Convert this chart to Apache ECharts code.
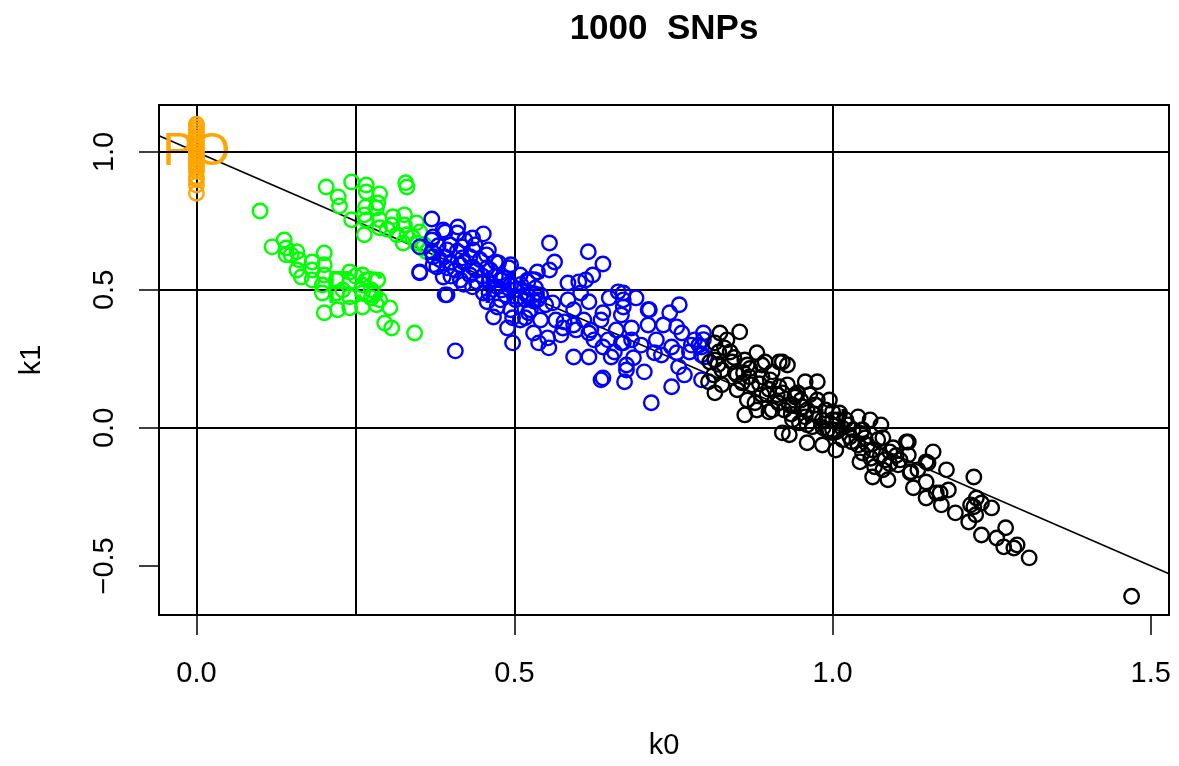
<!DOCTYPE html>
<html>
<head>
<meta charset="utf-8">
<title>1000 SNPs</title>
<script src="https://cdn.jsdelivr.net/npm/echarts@6/dist/echarts.min.js"></script>
<style>
  html, body { margin: 0; padding: 0; background: #fff; }
  #chart { width: 1179px; height: 766px; }
</style>
</head>
<body>
<div id="chart"></div>
<script>
// Estimated IBD coefficients (k0, k1) for pairs, grouped by relationship
const poPoints = [
  [0, 0.85], [0, 0.88], [0, 0.90], [0, 0.91], [0, 0.93], [0, 0.94], [0, 0.95],
  [0, 0.96], [0, 0.97], [0, 0.98], [0, 0.99], [0, 1.00], [0, 1.01], [0, 1.02],
  [0, 1.03], [0, 1.04], [0, 1.05], [0, 1.06], [0, 1.07], [0, 1.08], [0, 1.09], [0, 1.10]
];

const fsPoints = [
  [0.100, 0.786], [0.204, 0.873], [0.223, 0.837], [0.225, 0.804], [0.244, 0.891],
  [0.267, 0.880], [0.267, 0.855], [0.288, 0.848], [0.329, 0.888], [0.331, 0.873],
  [0.285, 0.815], [0.266, 0.800], [0.264, 0.772], [0.283, 0.797], [0.244, 0.754],
  [0.267, 0.754], [0.288, 0.754], [0.264, 0.700], [0.288, 0.725], [0.307, 0.735],
  [0.309, 0.765], [0.327, 0.772], [0.327, 0.735], [0.325, 0.670], [0.346, 0.743],
  [0.351, 0.710], [0.346, 0.670], [0.315, 0.700], [0.331, 0.700], [0.354, 0.652],
  [0.362, 0.638], [0.300, 0.720], [0.340, 0.690], [0.358, 0.665],
  [0.119, 0.656], [0.138, 0.681], [0.141, 0.652], [0.141, 0.627], [0.158, 0.638],
  [0.161, 0.609], [0.158, 0.572], [0.182, 0.601], [0.201, 0.634], [0.201, 0.591],
  [0.165, 0.547], [0.182, 0.572], [0.182, 0.536], [0.201, 0.554], [0.198, 0.518],
  [0.220, 0.536], [0.241, 0.565], [0.241, 0.529], [0.261, 0.554], [0.261, 0.518],
  [0.198, 0.489], [0.220, 0.489], [0.241, 0.475], [0.261, 0.489], [0.275, 0.471],
  [0.288, 0.464], [0.201, 0.417], [0.222, 0.428], [0.241, 0.435], [0.261, 0.438],
  [0.283, 0.446], [0.304, 0.435], [0.296, 0.380], [0.307, 0.362], [0.343, 0.344],
  [0.285, 0.536], [0.275, 0.500], [0.149, 0.627], [0.230, 0.500], [0.250, 0.550]
];

const hsPoints = [
  [0.370, 0.757], [0.411, 0.728], [0.451, 0.703], [0.434, 0.688], [0.410, 0.706],
  [0.391, 0.710], [0.372, 0.692], [0.555, 0.670], [0.616, 0.638], [0.639, 0.594],
  [0.563, 0.601], [0.555, 0.572], [0.536, 0.565], [0.456, 0.627], [0.435, 0.645],
  [0.418, 0.656], [0.394, 0.645], [0.370, 0.638], [0.351, 0.562], [0.372, 0.591],
  [0.394, 0.580], [0.415, 0.591], [0.434, 0.583], [0.457, 0.580], [0.475, 0.598],
  [0.491, 0.580], [0.394, 0.482], [0.415, 0.536], [0.434, 0.511], [0.451, 0.489],
  [0.473, 0.511], [0.483, 0.543], [0.494, 0.518], [0.457, 0.457], [0.473, 0.438],
  [0.467, 0.402], [0.494, 0.428], [0.489, 0.362], [0.497, 0.308], [0.407, 0.279],
  [0.509, 0.475], [0.521, 0.529], [0.533, 0.507], [0.536, 0.464], [0.522, 0.417],
  [0.509, 0.391], [0.530, 0.344], [0.552, 0.326], [0.538, 0.308], [0.554, 0.290],
  [0.560, 0.453], [0.584, 0.525], [0.601, 0.529], [0.612, 0.536], [0.623, 0.554],
  [0.604, 0.489], [0.584, 0.464], [0.593, 0.428], [0.578, 0.384], [0.576, 0.362],
  [0.593, 0.373], [0.609, 0.391], [0.617, 0.457], [0.617, 0.344], [0.625, 0.319],
  [0.639, 0.417], [0.649, 0.471], [0.663, 0.493], [0.671, 0.464], [0.691, 0.471],
  [0.671, 0.438], [0.668, 0.409], [0.710, 0.428], [0.684, 0.362], [0.668, 0.308],
  [0.657, 0.275], [0.639, 0.293], [0.617, 0.257], [0.593, 0.257], [0.676, 0.228],
  [0.704, 0.203], [0.636, 0.174], [0.673, 0.167], [0.710, 0.373], [0.720, 0.272],
  [0.671, 0.489], [0.759, 0.446], [0.744, 0.417], [0.712, 0.428], [0.734, 0.373],
  [0.755, 0.366], [0.763, 0.344], [0.783, 0.319], [0.797, 0.344], [0.794, 0.293],
  [0.799, 0.257], [0.775, 0.275], [0.758, 0.221], [0.747, 0.149], [0.767, 0.192],
  [0.715, 0.091], [0.687, 0.254], [0.676, 0.210], [0.652, 0.257], [0.671, 0.308],
  [0.647, 0.319], [0.639, 0.181], [0.794, 0.174], [0.747, 0.293], [0.755, 0.272],
  [0.351, 0.656], [0.351, 0.565], [0.370, 0.681], [0.388, 0.717], [0.391, 0.482],
  [0.372, 0.620], [0.388, 0.547], [0.378, 0.583],
  [0.383, 0.609], [0.407, 0.572], [0.422, 0.681], [0.430, 0.554], [0.446, 0.609],
  [0.462, 0.572], [0.478, 0.536], [0.486, 0.482], [0.502, 0.464], [0.509, 0.554],
  [0.517, 0.464], [0.525, 0.428], [0.541, 0.482], [0.549, 0.446], [0.399, 0.663],
  [0.418, 0.616], [0.438, 0.663], [0.459, 0.645], [0.470, 0.601], [0.494, 0.591],
  [0.478, 0.464], [0.497, 0.399], [0.517, 0.399], [0.541, 0.391], [0.565, 0.391],
  [0.573, 0.337], [0.597, 0.355], [0.620, 0.355], [0.636, 0.391], [0.660, 0.355],
  [0.684, 0.319], [0.699, 0.300], [0.723, 0.319], [0.731, 0.264], [0.778, 0.300],
  [0.794, 0.264], [0.797, 0.320], [0.790, 0.300],
  [0.380, 0.660], [0.390, 0.620], [0.400, 0.600], [0.410, 0.640], [0.420, 0.600],
  [0.430, 0.620], [0.440, 0.570], [0.450, 0.550], [0.460, 0.530], [0.470, 0.550],
  [0.480, 0.500], [0.490, 0.520], [0.500, 0.500], [0.510, 0.520], [0.520, 0.480],
  [0.530, 0.460], [0.440, 0.530], [0.460, 0.490], [0.400, 0.550], [0.420, 0.520]
];

const unPoints = [
  [0.823, 0.344], [0.854, 0.348], [0.815, 0.308], [0.821, 0.275], [0.839, 0.275],
  [0.881, 0.272], [0.916, 0.239], [0.894, 0.239], [0.862, 0.246], [0.815, 0.246],
  [0.826, 0.210], [0.847, 0.199], [0.869, 0.185], [0.889, 0.185], [0.902, 0.174],
  [0.815, 0.127], [0.805, 0.167], [0.858, 0.163], [0.878, 0.091], [0.862, 0.047],
  [0.900, 0.058], [0.921, 0.127], [0.916, 0.149], [0.957, 0.167], [0.976, 0.167],
  [0.941, 0.120], [0.964, 0.120], [0.932, 0.083], [0.953, 0.076], [0.973, 0.083],
  [0.995, 0.101], [0.989, 0.065], [0.921, -0.018], [0.948, 0.018], [0.968, 0.004],
  [0.957, 0.040], [1.011, 0.054], [1.021, 0.029], [0.921, 0.239], [0.941, 0.112],
  [1.040, 0.040], [1.059, 0.029], [1.076, 0.011], [1.079, -0.036], [1.116, -0.051],
  [1.158, -0.087], [1.179, -0.152], [1.222, -0.178], [1.147, -0.123], [1.090, -0.087],
  [1.106, -0.116], [1.123, -0.159], [1.147, -0.196], [1.066, -0.141], [1.063, -0.178],
  [1.087, -0.188], [1.043, -0.123], [1.047, -0.091], [1.005, -0.080], [0.984, -0.062],
  [0.960, -0.054], [0.932, -0.025], [1.027, -0.033], [1.000, -0.007], [1.163, -0.236],
  [1.182, -0.225], [1.226, -0.254], [1.119, -0.051], [1.150, -0.127], [1.122, -0.163],
  [1.127, -0.217], [1.147, -0.254], [1.169, -0.236], [1.171, -0.279], [1.193, -0.308],
  [1.214, -0.341], [1.217, -0.279], [1.222, -0.286], [1.234, -0.272], [1.250, -0.290],
  [1.225, -0.315], [1.234, -0.388], [1.272, -0.362], [1.258, -0.399], [1.269, -0.431],
  [1.285, -0.435], [1.290, -0.424], [1.309, -0.471], [1.470, -0.610],
  [0.834, 0.319], [0.842, 0.239], [0.850, 0.192], [0.866, 0.228], [0.873, 0.156],
  [0.889, 0.228], [0.905, 0.203], [0.913, 0.120], [0.929, 0.156], [0.937, 0.083],
  [0.945, 0.127], [0.960, 0.065], [0.976, 0.101], [0.984, 0.029], [0.992, -0.007],
  [1.008, 0.029], [1.016, -0.043], [1.032, -0.007], [1.040, -0.062], [1.051, -0.036],
  [1.063, -0.080], [1.071, -0.043], [1.082, -0.116], [1.095, -0.072], [1.103, -0.134],
  [1.119, -0.098], [1.134, -0.152], [0.889, 0.120], [0.866, 0.101], [0.850, 0.138],
  [0.826, 0.156], [0.813, 0.192], [0.807, 0.239], [0.960, 0.011], [1.000, 0.058],
  [1.024, 0.011], [1.047, -0.007], [1.055, -0.062], [1.079, -0.152], [0.937, 0.029],
  [0.924, 0.065], [0.905, 0.065], [0.881, 0.065], [0.897, 0.120], [0.929, 0.228],
  [0.830, 0.290], [0.845, 0.255], [0.870, 0.215], [0.885, 0.160], [0.900, 0.140],
  [0.915, 0.090], [0.935, 0.050], [0.950, 0.100], [0.970, 0.050], [0.985, 0.000],
  [1.000, 0.030], [1.015, 0.000], [1.030, -0.050], [1.045, -0.020], [1.060, -0.110],
  [1.075, -0.100], [1.090, -0.130], [1.100, -0.100], [0.860, 0.200], [0.820, 0.230]
];

// Expected coefficients for each relationship, drawn as large letters
const relLabels = ['PO', 'FS', 'HS', 'U'];
const relK0 = [0, 0.25, 0.5, 1];
const relK1 = [1, 0.5, 0.5, 0];
const relColors = ['#FFA500', '#00FF00', '#0000FF', '#000000'];

// Reference lines: k0 + k1 = 1, plus guide lines at the expected values
const ablineIntercept = 1;
const ablineSlope = -1;
const vLines = [0, 0.25, 0.5, 1];
const hLines = [0, 0.5, 1];

// Axis ranges and ticks
const xRange = [-0.0588, 1.5288];
const yRange = [-0.678, 1.170];
const xTicks = [0, 0.5, 1, 1.5];
const yTicks = [-0.5, 0, 0.5, 1];

const FONT = '"Liberation Sans", Arial, Helvetica, sans-serif';

const chart = echarts.init(document.getElementById('chart'), null, { renderer: 'canvas' });

function pointSeries(name, data, color) {
  return {
    name: name,
    type: 'scatter',
    data: data,
    symbol: 'circle',
    symbolSize: 14.5,
    itemStyle: { color: 'rgba(0,0,0,0)', borderColor: color, borderWidth: 2.4, opacity: 1 },
    emphasis: { disabled: true },
    silent: true,
    z: 5
  };
}

const option = {
  animation: false,
  backgroundColor: '#fff',
  grid: {
    left: 159, right: 10, top: 105, bottom: 151,
    show: true, borderColor: '#000', borderWidth: 2, backgroundColor: 'transparent',
    containLabel: false
  },
  graphic: [
    {
      type: 'text', x: 664, y: 29, z: 10,
      style: { text: '1000  SNPs', font: 'bold 35px ' + FONT, fill: '#000',
               textAlign: 'center', textVerticalAlign: 'middle' }
    },
    {
      type: 'text', x: 664, y: 746, z: 10,
      style: { text: 'k0', font: '29px ' + FONT, fill: '#000',
               textAlign: 'center', textVerticalAlign: 'middle' }
    },
    {
      type: 'text', x: 32, y: 360, rotation: Math.PI / 2, z: 10,
      style: { text: 'k1', font: '29px ' + FONT, fill: '#000',
               textAlign: 'center', textVerticalAlign: 'middle' }
    }
  ],
  xAxis: {
    type: 'value',
    min: xRange[0], max: xRange[1],
    splitLine: { show: false },
    axisLine: { show: false, onZero: false },
    axisTick: {
      show: true, inside: false, length: 20, customValues: xTicks,
      lineStyle: { color: '#000', width: 1.5 }
    },
    axisLabel: {
      show: true, customValues: xTicks, margin: 44,
      color: '#000', fontSize: 29, fontFamily: FONT,
      formatter: v => v.toFixed(1)
    }
  },
  yAxis: {
    type: 'value',
    min: yRange[0], max: yRange[1],
    splitLine: { show: false },
    axisLine: { show: false, onZero: false },
    axisTick: {
      show: true, inside: false, length: 20, customValues: yTicks,
      lineStyle: { color: '#000', width: 1.5 }
    },
    axisLabel: {
      show: true, customValues: yTicks, margin: 40, rotate: 90,
      color: '#000', fontSize: 29, fontFamily: FONT,
      formatter: v => (v < 0 ? '\u2212' + Math.abs(v).toFixed(1) : v.toFixed(1))
    }
  },
  series: [
    {
      name: 'guides',
      type: 'line',
      data: [xRange[0], xRange[1]].map(x => [x, ablineIntercept + ablineSlope * x]),
      symbol: 'none',
      clip: true,
      silent: true,
      lineStyle: { color: '#000', width: 1.6 },
      z: 1,
      markLine: {
        silent: true,
        symbol: ['none', 'none'],
        label: { show: false },
        lineStyle: { color: '#000', width: 2, type: 'solid' },
        emphasis: { disabled: true },
        data: vLines.map(v => ({ xAxis: v })).concat(hLines.map(v => ({ yAxis: v })))
      }
    },
    {
      name: 'relationships',
      type: 'scatter',
      symbolSize: 1,
      itemStyle: { color: 'rgba(0,0,0,0)' },
      silent: true,
      z: 3,
      data: relLabels.map((t, i) => ({
        value: [relK0[i], relK1[i]],
        label: {
          show: true, position: 'inside', formatter: t,
          color: relColors[i], fontSize: 47, fontFamily: FONT,
          textBorderWidth: 0, opacity: 1
        }
      }))
    },
    pointSeries('PO', poPoints, '#FFA500'),
    pointSeries('FS', fsPoints, '#00FF00'),
    pointSeries('HS', hsPoints, '#0000FF'),
    pointSeries('U', unPoints, '#000000')
  ]
};

chart.setOption(option);
</script>
</body>
</html>
